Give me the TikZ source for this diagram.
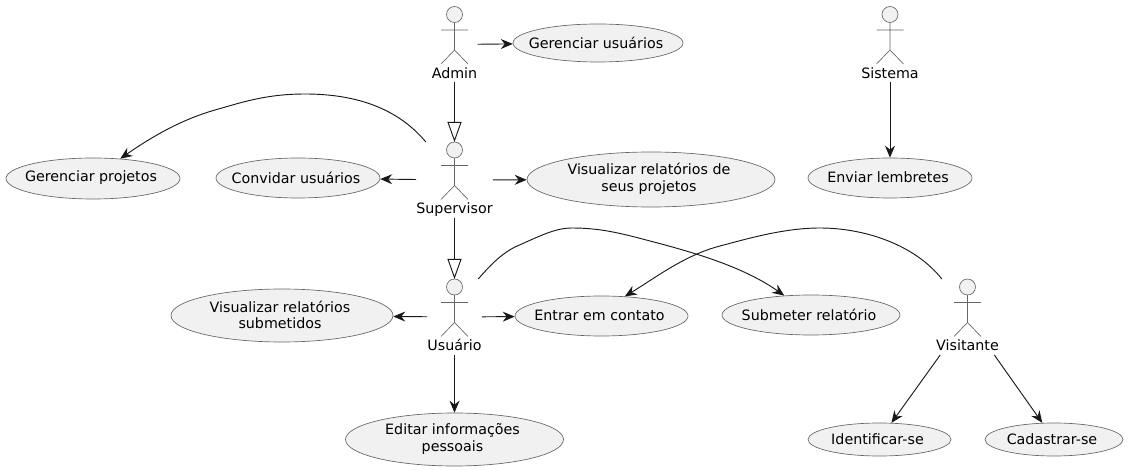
\documentclass[tikz,border=0pt]{standalone}
\usepackage{fontspec}
\setmainfont{DejaVu Sans}
\usetikzlibrary{arrows.meta, shapes.geometric}

\definecolor{ucfill}{HTML}{F1F1F1}
\definecolor{ucline}{HTML}{181818}
\definecolor{ucedge}{HTML}{666666}

\tikzset{
  usecase/.style n args={3}{ellipse, draw=ucedge, fill=ucfill, line width=0.5pt, inner sep=0pt,
    minimum width=#1*0.75pt, minimum height=#2*0.75pt,
    label={[align=center, inner sep=0pt, xshift=-1.5pt, yshift=0.4pt]center:{#3}}},
  actorbox/.style={anchor=north, inner sep=0pt, text height=53.6pt, text depth=3pt},
  actorline/.style={draw=ucedge, line width=0.5pt},
  conn/.style={draw=ucline, line width=0.7pt, -{Stealth[length=9pt, width=7.5pt, inset=3pt]}},
  gen/.style={draw=ucline, line width=0.7pt, -{Triangle[open, length=15pt, width=10.5pt]}}
}

\newcommand{\actor}[4]{%
  \node[actorbox] (#1) at (#2,#3) {#4};
  \begin{scope}[shift={(#2,#3)}]
    \draw[actorline, fill=ucfill] (0,8) circle[radius=8];
    \draw[actorline] (0,16) -- (0,43.5) (-13.5,23.5) -- (13.5,23.5)
      (-13.5,57.5) -- (0,43.5) -- (13.5,57.5);
  \end{scope}}

\begin{document}
\begin{tikzpicture}[x=0.75pt, y=-0.75pt, font=\fontsize{10.7pt}{12.6pt}\selectfont]
      \useasboundingbox (0,0) rectangle (1129,470);
      \actor{admin}{454.5}{6.5}{Admin}
      \actor{sistema}{890}{6.5}{Sistema}
      \actor{supervisor}{454.5}{142}{Supervisor}
      \actor{usuario}{454.5}{279}{Usuário}
      \actor{visitante}{967.5}{279}{Visitante}

      \node[usecase={170}{38}{Gerenciar usuários}] (gusuarios) at (598,43) {};
      \node[usecase={174}{41}{Gerenciar projetos}] (gprojetos) at (93,178.5) {};
      \node[usecase={164}{40}{Convidar usuários}] (convidar) at (298,178) {};
      \node[usecase={248}{55}{Visualizar relatórios de\\seus projetos}] (vprojetos) at (651,179.5) {};
      \node[usecase={164}{40}{Enviar lembretes}] (lembretes) at (890,178) {};
      \node[usecase={222}{53}{Visualizar relatórios\\submetidos}] (vsubmetidos) at (282,315.5) {};
      \node[usecase={173}{40}{Entrar em contato}] (contato) at (601.5,316) {};
      \node[usecase={178}{40}{Submeter relatório}] (submeter) at (811,315) {};
      \node[usecase={218}{53}{Editar informações\\pessoais}] (editar) at (454.5,439.5) {};
      \node[usecase={143}{33}{Identificar-se}] (identificar) at (879.5,439.5) {};
      \node[usecase={138}{33}{Cadastrar-se}] (cadastrar) at (1054,439.5) {};

      \path
                (admin) edge[conn] (gusuarios)
                (admin) edge[gen] (supervisor)
                (sistema) edge[conn] (lembretes)
                (supervisor) edge[conn] (convidar)
                (supervisor) edge[conn] (vprojetos)
                (supervisor) edge[gen] (usuario)
                (usuario) edge[conn] (vsubmetidos)
                (usuario) edge[conn] (contato)
                (usuario) edge[conn] (editar)
                (visitante) edge[conn] (identificar)
                (visitante) edge[conn] (cadastrar);
      \draw[conn] (supervisor.127) .. controls (395,105) and (350,94) .. (305,94)
                .. controls (265,94) and (240,103) .. (215,110)
                .. controls (180,120) and (150,138) .. (gprojetos.36);
      \draw[conn] (usuario.58) .. controls (492,263) and (503,253) .. (515,247)
                .. controls (540,236) and (555,228) .. (572,228)
                .. controls (600,228) and (620,233) .. (650,241)
                .. controls (700,254) and (745,268) .. (submeter.144);
      \draw[conn] (visitante.124) .. controls (915,245) and (865,228) .. (820,228)
                .. controls (785,228) and (750,238) .. (720,246)
                .. controls (685,255) and (655,278) .. (contato.40);
\end{tikzpicture}
\end{document}
